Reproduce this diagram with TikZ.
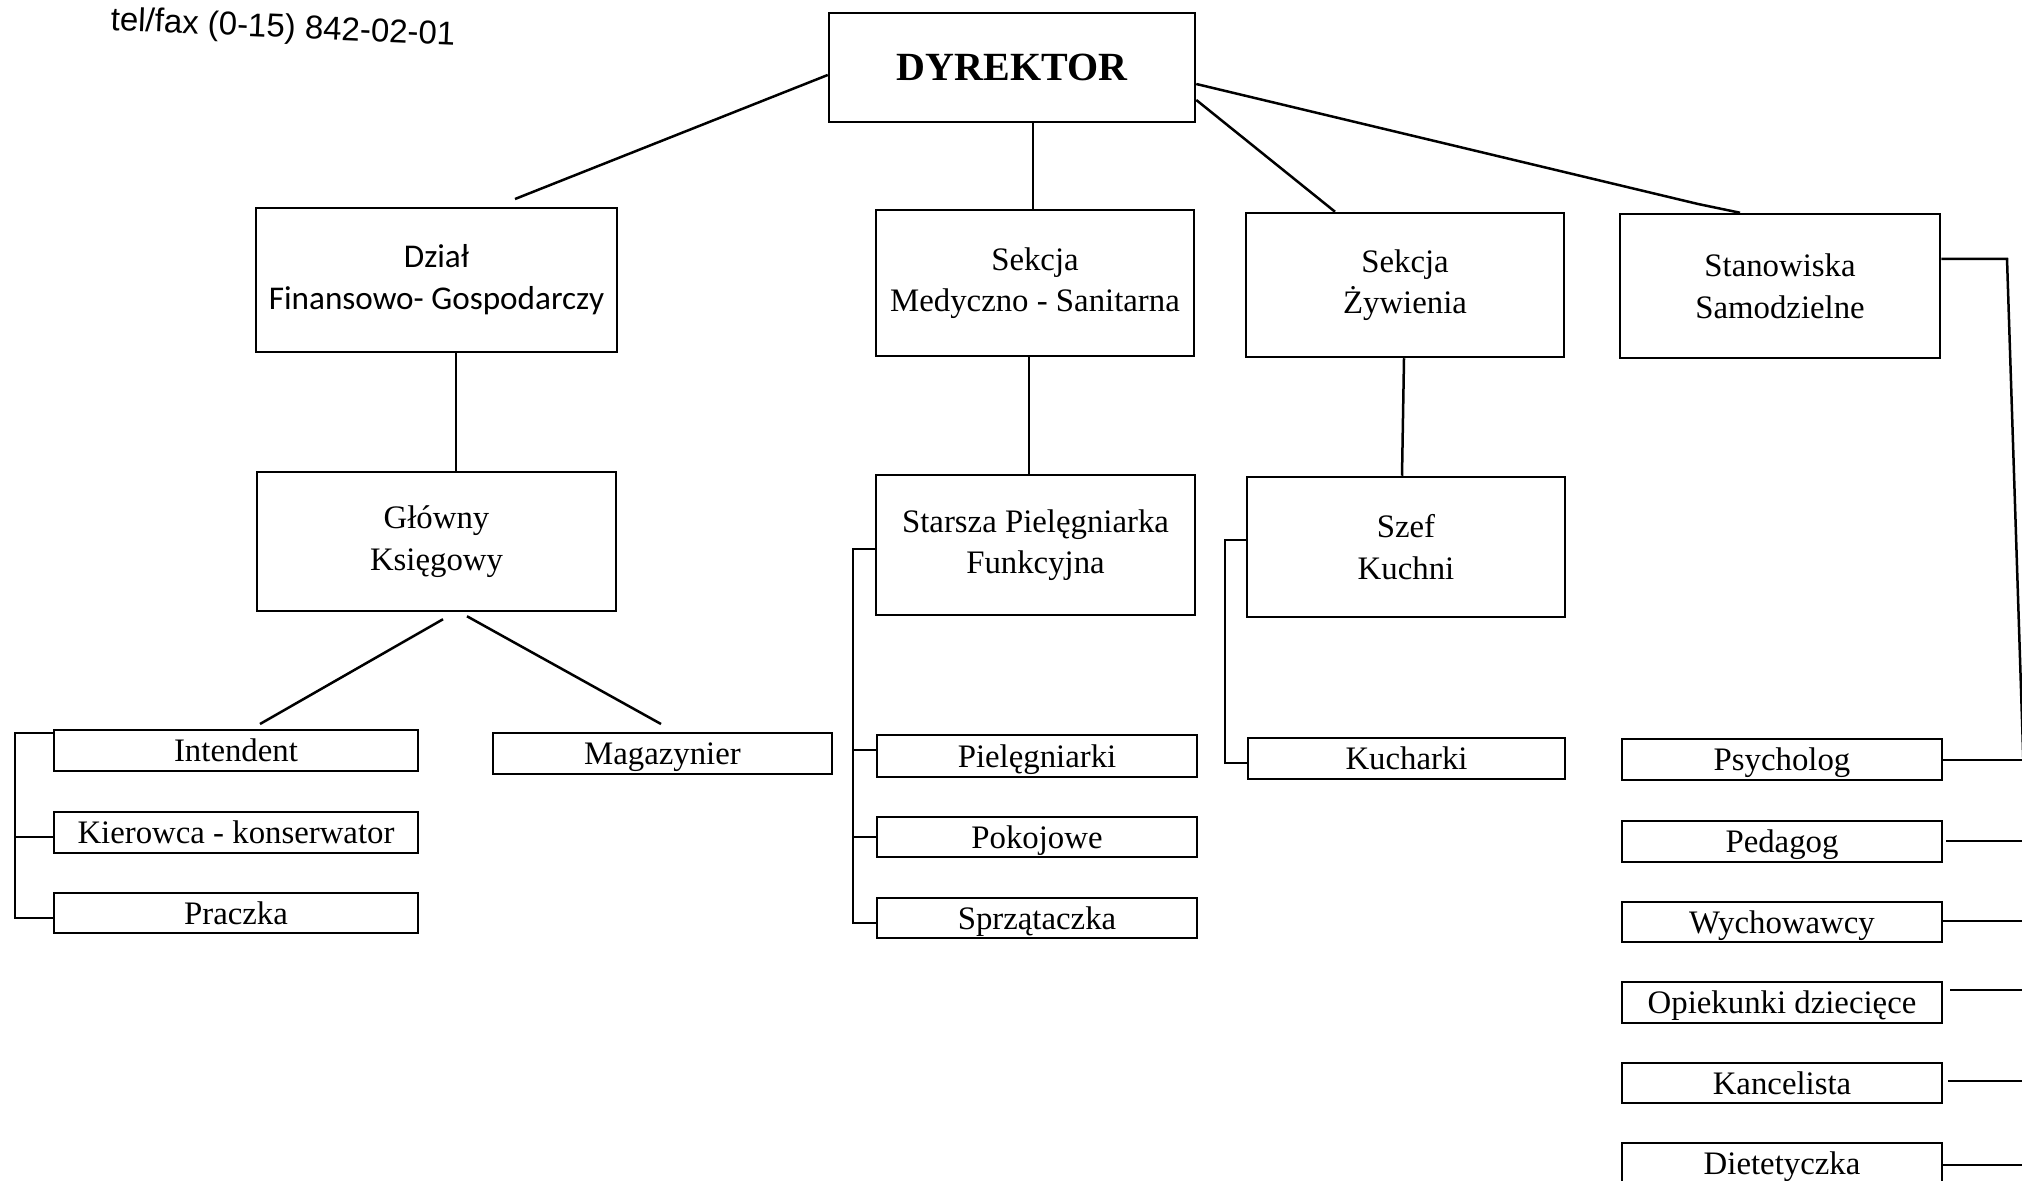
\documentclass[tikz,border=0pt]{standalone}
\usepackage{fontspec}
\setmainfont{Liberation Serif}
\newfontfamily\calibrifont{Carlito}
\newfontfamily\arialfont{Liberation Sans}
\usetikzlibrary{calc}
% [style] name x1 y1 x2 y2 text  (pixel coordinates of the reference)
\newcommand\bx[7][]{\node[orgbox,#1,minimum width={(#5-#3)*0.5pt},minimum height={(#6-#4)*0.5pt}] (#2) at ({(#3+#5)/2},{(#4+#6)/2}) {#7};}
\begin{document}
\begin{tikzpicture}[x=0.5pt,y=-0.5pt,
  orgbox/.style={draw,line width=1.25pt,inner sep=0pt,align=center,
    font=\fontsize{16.4}{20.8}\selectfont},
  small/.style={text height=11pt,text depth=0pt},
  conn/.style={line width=1.25pt}]
\useasboundingbox (0,0) rectangle (2022,1181);
\clip (0,0) rectangle (2022,1181);

\node[font=\arialfont\fontsize{16.5}{20}\selectfont,rotate=-2.5,inner sep=0pt] (tel) at (283,29) {tel/fax (0-15) 842-02-01};

% upper level
\bx[font=\bfseries\fontsize{20}{24}\selectfont]{dyr}{829}{13}{1195}{122}{DYREKTOR}
\bx[font=\calibrifont\fontsize{16.6}{21}\selectfont]{dzial}{256}{208}{617}{352}{Dział\\Finansowo- Gospodarczy}
\bx{med}{876}{210}{1194}{356}{Sekcja\\Medyczno - Sanitarna}
\bx{zyw}{1246}{213}{1564}{357}{Sekcja\\Żywienia}
\bx{stan}{1620}{214}{1940}{358}{Stanowiska\\Samodzielne}

\bx{glow}{257}{472}{616}{611}{Główny\\Księgowy}
\bx{star}{876}{475}{1195}{615}{Starsza Pielęgniarka\\Funkcyjna}
\bx{szef}{1247}{477}{1565}{617}{Szef\\Kuchni}

% small boxes
\bx[small]{int}{54}{730}{418}{771}{Intendent}
\bx[small]{kier}{54}{812}{418}{853}{Kierowca - konserwator}
\bx[small]{prac}{54}{893}{418}{933}{Praczka}
\bx[small]{mag}{493}{733}{832}{774}{Magazynier}
\bx[small]{piel}{877}{735}{1197}{777}{Pielęgniarki}
\bx[small]{pok}{877}{817}{1197}{857}{Pokojowe}
\bx[small]{spr}{877}{898}{1197}{938}{Sprzątaczka}
\bx[small]{kuch}{1248}{738}{1565}{779}{Kucharki}
\bx[small]{psy}{1622}{739}{1942}{780}{Psycholog}
\bx[small]{ped}{1622}{821}{1942}{862}{Pedagog}
\bx[small]{wych}{1622}{902}{1942}{942}{Wychowawcy}
\bx[small]{opie}{1622}{982}{1942}{1023}{Opiekunki dziecięce}
\bx[small]{kanc}{1622}{1063}{1942}{1103}{Kancelista}
\bx[small]{diet}{1622}{1143}{1942}{1184}{Dietetyczka}

% free ends / bends
\coordinate (c1) at (515,199);
\coordinate (c2) at (1698,204);
\coordinate (c3) at (260,724);
\coordinate (c4) at (661,724);
\coordinate (vt) at (2007,259);
\coordinate (vb) at (2037,1181);
\coordinate (rail) at (2060,0);

% connectors from DYREKTOR
\draw[conn] (dyr.west |- 0,75) -- (c1);
\draw[conn] (dyr.south -| 1033,0) -- (med.north -| 1033,0);
\draw[conn] (dyr.east |- 0,100) -- (zyw.north -| 1335,0);
\draw[conn] (dyr.east |- 0,84) -- (c2) -- (stan.north -| 1740,0);

% vertical links
\draw[conn] (dzial.south -| 456,0) -- (glow.north -| 456,0);
\draw[conn] (med.south -| 1029,0) -- (star.north -| 1029,0);
\draw[conn] (zyw.south -| 1404,0) -- (szef.north -| 1402,0);

% from Glowny Ksiegowy
\draw[conn] (glow.south -| 443,0) ++(0,7) -- (c3);
\draw[conn] (glow.south -| 467,0) ++(0,4) -- (c4);

% brackets
\draw[conn] (int.west |- 0,733) -- (15,733) -- (15,918) -- (prac.west |- 0,918);
\draw[conn] (15,837) -- (kier.west |- 0,837);
\draw[conn] (star.west |- 0,549) -- (853,549) -- (853,923) -- (spr.west |- 0,923);
\draw[conn] (853,750) -- (piel.west |- 0,750);
\draw[conn] (853,837) -- (pok.west |- 0,837);
\draw[conn] (szef.west |- 0,540) -- (1225,540) -- (1225,763) -- (kuch.west |- 0,763);

% right side rail (runs off the page on the right)
\draw[conn] (stan.east |- vt) -- (vt) -- (vb);
\draw[conn] (psy.east |- 0,760) -- (rail |- 0,760);
\draw[conn] (ped.east |- 0,841) ++(3,0) -- (rail |- 0,841);
\draw[conn] (wych.east |- 0,921) -- (rail |- 0,921);
\draw[conn] (opie.east |- 0,990) ++(7,0) -- (rail |- 0,990);
\draw[conn] (kanc.east |- 0,1081) ++(5,0) -- (rail |- 0,1081);
\draw[conn] (diet.east |- 0,1165) -- (rail |- 0,1165);
\end{tikzpicture}
\end{document}
